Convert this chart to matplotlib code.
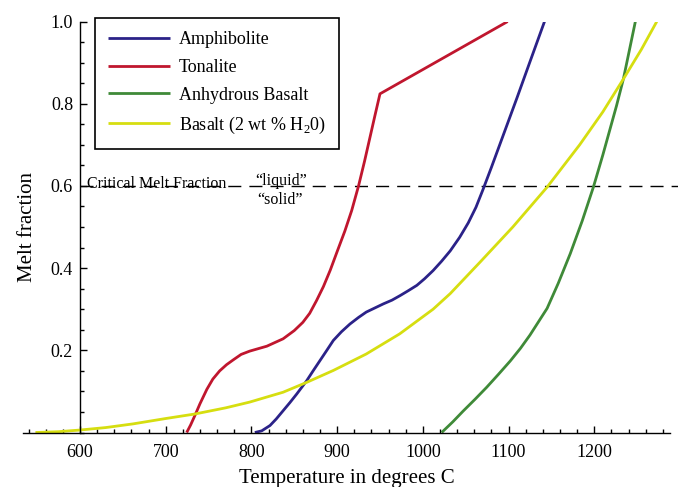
import matplotlib
matplotlib.use("Agg")
import matplotlib.pyplot as plt
from matplotlib.ticker import MultipleLocator

plt.rcParams['font.family'] = ['Liberation Serif', 'DejaVu Serif']
plt.rcParams['mathtext.fontset'] = 'custom'
plt.rcParams['mathtext.rm'] = 'Liberation Serif'

# melt fraction curves (temperature C, fraction)
amph_T = [804, 812, 821.7, 829, 837, 845, 853, 864.5, 872, 880, 888, 895.6, 905, 915, 925,
          934, 944, 954, 964, 973.4, 983, 993, 1002, 1012, 1022, 1032, 1043, 1053, 1062,
          1070, 1080, 1095, 1110, 1125, 1142]
amph_f = [0.0, 0.004, 0.017, 0.033, 0.053, 0.073, 0.094, 0.126, 0.15, 0.175, 0.2, 0.224, 0.245,
          0.264, 0.28, 0.293, 0.303, 0.313, 0.322, 0.333, 0.345, 0.358, 0.374, 0.394, 0.417,
          0.442, 0.475, 0.51, 0.548, 0.59, 0.645, 0.73, 0.815, 0.902, 1.0]

ton_T = [724.5, 729, 734, 740, 748, 755, 763, 771, 779, 788, 798, 818, 837, 850, 860, 868, 876,
         884, 892, 900, 909, 917, 925, 932, 938, 944, 950, 1099]
ton_f = [0.0, 0.018, 0.041, 0.07, 0.105, 0.13, 0.15, 0.165, 0.177, 0.19, 0.198, 0.21, 0.228,
         0.248, 0.268, 0.29, 0.321, 0.355, 0.395, 0.44, 0.49, 0.54, 0.6, 0.66, 0.715, 0.77,
         0.824, 1.0]

anhy_T = [1022, 1035, 1047, 1061, 1074.5, 1088, 1102, 1114, 1125, 1145, 1158, 1172, 1186, 1199,
          1210, 1218, 1226, 1234, 1241, 1248]
anhy_f = [0.0, 0.026, 0.052, 0.081, 0.11, 0.141, 0.174, 0.205, 0.237, 0.302, 0.363, 0.435,
          0.515, 0.597, 0.675, 0.735, 0.795, 0.86, 0.93, 1.0]

bas_T = [548, 575, 600, 630, 662, 700, 734, 770, 798, 837, 864.5, 895.6, 934, 973, 1012, 1032,
         1067, 1105, 1145, 1183, 1210, 1234, 1255, 1273]
bas_f = [0.0, 0.002, 0.006, 0.012, 0.021, 0.034, 0.045, 0.06, 0.074, 0.098, 0.122, 0.151,
         0.191, 0.24, 0.30, 0.338, 0.415, 0.5, 0.597, 0.70, 0.78, 0.86, 0.932, 1.0]

critical = 0.6
x_ticks = [600, 700, 800, 900, 1000, 1100, 1200]
y_ticks = [0.2, 0.4, 0.6, 0.8, 1.0]

fig = plt.figure(figsize=(6.78, 4.87), dpi=100)
ax = fig.add_axes([23/678, 54.5/487, 647/678, 411/487])

ax.plot(amph_T, amph_f, color='#2b2288', lw=2.0, label='Amphibolite', solid_capstyle='butt')
ax.plot(ton_T, ton_f, color='#c0162e', lw=2.0, label='Tonalite', solid_capstyle='butt')
ax.plot(anhy_T, anhy_f, color='#3f8a38', lw=2.0, label='Anhydrous Basalt', solid_capstyle='butt')
ax.plot(bas_T, bas_f, color='#d6de10', lw=2.0, label=r'Basalt (2 wt % H$_\mathregular{2}$0)',
        solid_capstyle='butt')

# critical melt fraction
ax.plot([600, 1300], [critical, critical], color='black', lw=1.0,
        linestyle=(0, (9.4, 5.8)), clip_on=False, zorder=1)
ax.text(608, critical - 0.004, 'Critical Melt Fraction', fontsize=11.5, ha='left', va='baseline')
ax.text(835, critical + 0.002, '\u201cliquid\u201d', fontsize=11.5, ha='center', va='baseline')
ax.text(833, critical - 0.045, '\u201csolid\u201d', fontsize=11.5, ha='center', va='baseline')

ax.set_xlim(533.5, 1288.4)
ax.set_ylim(0, 1.0)

for s in ['top', 'right']:
    ax.spines[s].set_visible(False)
ax.spines['left'].set_position(('data', 600))
ax.spines['left'].set_linewidth(1.0)
ax.spines['bottom'].set_linewidth(1.0)

ax.set_xticks(x_ticks)
ax.set_yticks(y_ticks)
ax.set_yticklabels(['%.1f' % v for v in y_ticks])
ax.xaxis.set_minor_locator(MultipleLocator(20))
ax.yaxis.set_minor_locator(MultipleLocator(0.05))
ax.tick_params(axis='x', which='both', direction='in', width=1.0, labelsize=13, pad=8.5)
ax.tick_params(axis='y', which='both', direction='in', width=1.0, labelsize=13, pad=5)
ax.tick_params(which='major', length=5)
ax.tick_params(which='minor', length=3)

ax.set_xlabel('Temperature in degrees C', fontsize=15)
ax.set_ylabel('Melt fraction', fontsize=15)
ax.xaxis.set_label_coords(0.5, -0.089)
ax.yaxis.set_label_coords(0.021, 0.5)

leg = ax.legend(loc='upper left', bbox_to_anchor=(95/678, 1 - 18/487),
                bbox_transform=fig.transFigure, borderaxespad=0, fontsize=13,
                fancybox=False, frameon=True, handlelength=3.43, handletextpad=0.5,
                borderpad=0.72, labelspacing=0.6)
leg.get_frame().set_edgecolor('black')
leg.get_frame().set_linewidth(1.2)
leg.get_frame().set_alpha(1)

fig.savefig('out.png', dpi=100)
